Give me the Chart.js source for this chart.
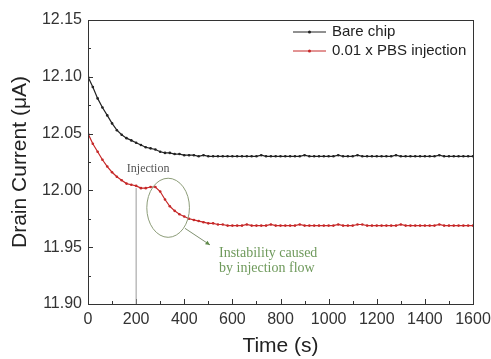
<!DOCTYPE html>
<html><head><meta charset="utf-8">
<script src="https://cdn.jsdelivr.net/npm/chart.js@4"></script>
<style>html,body{margin:0;padding:0;background:#fff;}#wrap{width:491px;height:359px;}</style>
</head><body><div id="wrap"><canvas id="c" width="491" height="359"></canvas></div>
<script>
const times = [0,20,40,60,80,100,120,140,160,180,200,220,240,260,280,300,320,340,360,380,400,420,440,460,480,500,520,540,560,580,600,620,640,660,680,700,720,740,760,780,800,820,840,860,880,900,920,940,960,980,1000,1020,1040,1060,1080,1100,1120,1140,1160,1180,1200,1220,1240,1260,1280,1300,1320,1340,1360,1380,1400,1420,1440,1460,1480,1500,1520,1540,1560,1580,1600];
const bareChip = [12.100,12.091,12.081,12.073,12.066,12.059,12.053,12.049,12.046,12.044,12.042,12.040,12.038,12.037,12.036,12.034,12.033,12.033,12.032,12.032,12.031,12.031,12.031,12.030,12.031,12.030,12.030,12.030,12.030,12.030,12.030,12.030,12.030,12.030,12.030,12.030,12.031,12.030,12.030,12.030,12.030,12.030,12.030,12.030,12.030,12.031,12.030,12.030,12.030,12.030,12.030,12.030,12.031,12.030,12.030,12.030,12.031,12.030,12.030,12.030,12.030,12.030,12.030,12.030,12.031,12.030,12.030,12.030,12.030,12.030,12.030,12.030,12.030,12.031,12.030,12.030,12.030,12.030,12.030,12.030,12.030];
const pbsInjection = [12.050,12.041,12.034,12.027,12.021,12.016,12.012,12.009,12.006,12.005,12.004,12.002,12.002,12.003,12.003,11.999,11.992,11.986,11.982,11.979,11.977,11.975,11.974,11.973,11.972,11.971,11.971,11.970,11.970,11.969,11.969,11.969,11.969,11.970,11.969,11.969,11.969,11.969,11.970,11.969,11.969,11.969,11.969,11.969,11.970,11.969,11.969,11.969,11.969,11.969,11.969,11.969,11.970,11.969,11.969,11.969,11.970,11.970,11.969,11.969,11.969,11.969,11.969,11.969,11.969,11.970,11.969,11.969,11.969,11.969,11.969,11.969,11.969,11.970,11.969,11.969,11.969,11.969,11.969,11.969,11.969];
const seriesLabels = ['Bare chip','0.01 x PBS injection'];
const xTicks = [0,200,400,600,800,1000,1200,1400,1600];
const yTicks = [11.90,11.95,12.00,12.05,12.10,12.15];
const injectionTime = 200;
const injectionTop = 12.002;
const ellipseCenter = {x:333, y:11.9847};
const ellipseRadius = {x:88.6, y:0.026};
const arrowFrom = {x:403, y:11.9666};
const arrowTo = {x:507, y:11.952};

const toPts = (vals) => times.map((t,i)=>({x:t,y:vals[i]}));

const overlay = {
  id:'overlay',
  afterDatasetsDraw(chart){
    const {ctx, chartArea:a, scales:{x,y}} = chart;
    ctx.save();
    ctx.strokeStyle='#333'; ctx.lineWidth=1;
    ctx.strokeRect(a.left+0.5, a.top+0.5, a.right-a.left, a.bottom-a.top);
    ctx.beginPath();
    for(let v=0; v<=1600; v+=100){
      const px=Math.round(x.getPixelForValue(v))+0.5;
      const len = (v%200===0)?5:3;
      ctx.moveTo(px,a.bottom); ctx.lineTo(px,a.bottom-len);
    }
    for(let k=0;k<=10;k++){
      const v=11.90+k*0.025;
      const py=Math.round(y.getPixelForValue(v))+0.5;
      const len=(k%2===0)?5:3;
      ctx.moveTo(a.left,py); ctx.lineTo(a.left+len,py);
    }
    ctx.stroke();
    const ix=x.getPixelForValue(injectionTime);
    ctx.strokeStyle='#999'; ctx.lineWidth=1;
    ctx.beginPath(); ctx.moveTo(ix, y.getPixelForValue(injectionTop)); ctx.lineTo(ix, a.bottom); ctx.stroke();
    ctx.fillStyle='#555'; ctx.font='12px "Liberation Serif", serif'; ctx.textAlign='center'; ctx.textBaseline='middle';
    ctx.fillText('Injection', ix+12, 169);
    const cx=x.getPixelForValue(ellipseCenter.x), cy=y.getPixelForValue(ellipseCenter.y);
    const rx=x.getPixelForValue(ellipseCenter.x+ellipseRadius.x)-cx;
    const ry=cy-y.getPixelForValue(ellipseCenter.y+ellipseRadius.y);
    ctx.strokeStyle='#8c9c78'; ctx.lineWidth=1;
    ctx.beginPath(); ctx.ellipse(cx,cy,rx,ry,0,0,Math.PI*2); ctx.stroke();
    const fx=x.getPixelForValue(arrowFrom.x), fy=y.getPixelForValue(arrowFrom.y);
    const tx=x.getPixelForValue(arrowTo.x), ty=y.getPixelForValue(arrowTo.y);
    ctx.strokeStyle='#7f9070';
    ctx.beginPath(); ctx.moveTo(fx,fy); ctx.lineTo(tx,ty); ctx.stroke();
    const ang=Math.atan2(ty-fy,tx-fx);
    ctx.fillStyle='#5f8a4a';
    ctx.beginPath(); ctx.moveTo(tx,ty);
    ctx.lineTo(tx-5*Math.cos(ang-0.45), ty-5*Math.sin(ang-0.45));
    ctx.lineTo(tx-5*Math.cos(ang+0.45), ty-5*Math.sin(ang+0.45));
    ctx.closePath(); ctx.fill();
    ctx.fillStyle='#6f9a5c'; ctx.font='14px "Liberation Serif", serif'; ctx.textAlign='left';
    ctx.fillText('Instability caused', 219, 253);
    ctx.fillText('by injection flow', 219, 268);
    const items=[{c:'#222',t:seriesLabels[0],yy:32},{c:'#c62828',t:seriesLabels[1],yy:51}];
    ctx.font='15px "Liberation Sans", Arial, sans-serif'; ctx.textBaseline='middle';
    items.forEach(it=>{
      ctx.strokeStyle=it.c; ctx.lineWidth=1;
      ctx.beginPath(); ctx.moveTo(293,it.yy); ctx.lineTo(326,it.yy); ctx.stroke();
      ctx.fillStyle=it.c; ctx.beginPath(); ctx.arc(309.5,it.yy,1.5,0,Math.PI*2); ctx.fill();
      ctx.fillStyle='#222'; ctx.fillText(it.t, 332, it.yy);
    });
    ctx.restore();
  }
};

new Chart(document.getElementById('c'), {
  type:'line',
  data:{datasets:[
    {label:seriesLabels[0], data:toPts(bareChip), borderColor:'#222', backgroundColor:'#222', borderWidth:1.2, pointRadius:1.3, pointBorderWidth:0, tension:0},
    {label:seriesLabels[1], data:toPts(pbsInjection), borderColor:'#c62828', backgroundColor:'#c62828', borderWidth:1.2, pointRadius:1.3, pointBorderWidth:0, tension:0}
  ]},
  options:{
    responsive:false, animation:false,
    layout:{padding:{top:20,right:18,left:0,bottom:0}},
    plugins:{legend:{display:false}, tooltip:{enabled:false}},
    scales:{
      x:{type:'linear', min:0, max:1600,
        afterBuildTicks:(s)=>{s.ticks=xTicks.map(v=>({value:v}));},
        afterFit:(s)=>{s.height=55; s.paddingRight=0; s.paddingLeft=0;},
        grid:{display:false, drawTicks:false}, border:{display:false},
        ticks:{color:'#333', font:{family:'"Liberation Sans", Arial, sans-serif', size:16}, padding:6, maxRotation:0, autoSkip:false, callback:(v)=>String(v)},
        title:{display:true, text:'Time (s)', color:'#222', font:{family:'"Liberation Sans", Arial, sans-serif', size:21}, padding:{top:2,bottom:0}}
      },
      y:{type:'linear', min:11.90, max:12.15,
        afterBuildTicks:(s)=>{s.ticks=yTicks.map(v=>({value:v}));},
        afterFit:(s)=>{s.width=88;},
        grid:{display:false, drawTicks:false}, border:{display:false},
        ticks:{color:'#333', font:{family:'"Liberation Sans", Arial, sans-serif', size:16}, padding:6, callback:(v)=>Number(v).toFixed(2), autoSkip:false},
        title:{display:true, text:'Drain Current (μA)', color:'#222', font:{family:'"Liberation Sans", Arial, sans-serif', size:21}, padding:{top:8,bottom:0}}
      }
    }
  },
  plugins:[overlay]
});
</script>
</body></html>
